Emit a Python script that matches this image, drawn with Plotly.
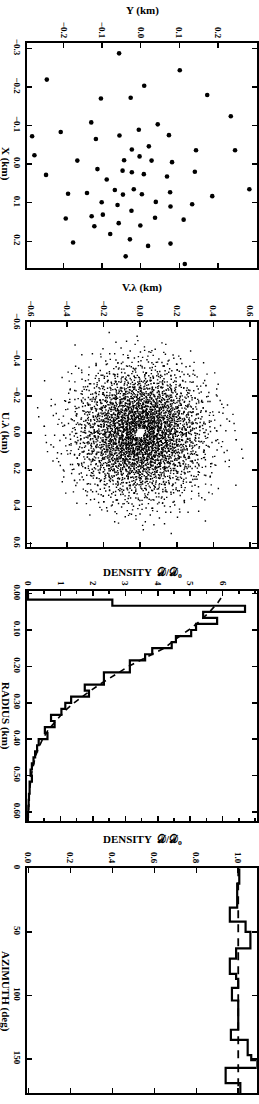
import plotly.graph_objects as go

# ---------------- data ----------------
# Panel 1: antenna positions (km)
ant_x = [-0.287, -0.243, -0.219, -0.203, -0.179, -0.170, -0.172, -0.124, -0.108, -0.103,
         -0.089, -0.083, -0.072, -0.074, -0.075, -0.065, -0.046, -0.036, -0.038, -0.036,
         -0.023, -0.020, -0.009, -0.010, -0.009, -0.005, 0.013, 0.017, 0.021, 0.026,
         0.020, 0.028, 0.032, 0.040, 0.067, 0.065, 0.073, 0.065, 0.077, 0.075,
         0.079, 0.078, 0.083, 0.099, 0.098, 0.106, 0.104, 0.110, 0.121, 0.131,
         0.135, 0.141, 0.139, 0.144, 0.153, 0.161, 0.159, 0.181, 0.195, 0.203,
         0.206, 0.212, 0.239, 0.259]
ant_y = [-0.056, 0.101, -0.243, 0.009, 0.172, -0.103, -0.026, 0.233, -0.128, 0.044,
         -0.005, -0.207, -0.281, -0.055, 0.073, -0.116, 0.021, 0.143, -0.023, 0.244,
         -0.275, -0.003, -0.164, -0.043, 0.028, 0.081, -0.112, -0.047, -0.023, 0.008,
         0.140, -0.245, 0.068, -0.088, -0.067, -0.018, 0.076, 0.281, -0.188, -0.139,
         -0.046, 0.003, 0.185, -0.101, 0.039, -0.060, 0.133, 0.077, -0.024, -0.098,
         -0.127, -0.194, 0.037, 0.111, -0.057, -0.120, -0.001, -0.079, -0.028, -0.175,
         0.077, 0.019, -0.039, 0.114]

# Panel 3: radial density histogram (bins of 1/60 km) and model curve
rad_bin_km = 1.0 / 60.0
rad_density = [0.0, 2.60, 6.69, 5.40, 5.83, 5.18, 5.03, 4.56, 4.43, 3.83,
               3.61, 3.14, 3.14, 2.34, 2.34, 1.75, 1.88, 1.33, 1.15, 1.03,
               0.71, 0.82, 0.52, 0.60, 0.33, 0.28, 0.22, 0.17, 0.12, 0.08,
               0.12, 0.05, 0.05, 0.03, 0.02, 0.01, 0.0]
model_r = [0.012, 0.025, 0.05, 0.075, 0.10, 0.125, 0.15, 0.175, 0.20, 0.225, 0.25,
           0.275, 0.30, 0.325, 0.35, 0.375, 0.40, 0.425, 0.45, 0.475, 0.50, 0.55, 0.60]
model_rad_density = [5.95, 5.85, 5.60, 5.30, 4.95, 4.55, 4.20, 3.65, 3.10, 2.65, 2.20,
                     1.80, 1.42, 1.10, 0.85, 0.62, 0.45, 0.32, 0.22, 0.15, 0.10, 0.04, 0.015]

# Panel 4: azimuthal density histogram
az_edges = [0, 12, 31, 42, 50, 63, 71, 83, 87, 94, 104, 127, 135, 147, 151, 157, 169, 177]
az_density = [1.005, 0.995, 0.96, 1.035, 1.058, 0.99, 0.96, 0.99, 1.0, 0.97, 1.0,
              0.965, 1.045, 1.062, 1.09, 0.94, 1.01]
model_az = [0, 177]
model_az_density = [1.0, 1.0]

# tick values per panel
p1_yticks = [-0.2, -0.1, 0.0, 0.1, 0.2]
p1_xticks = [-0.3, -0.2, -0.1, 0.0, 0.1, 0.2]
p2_ticks = [-0.6, -0.4, -0.2, 0.0, 0.2, 0.4, 0.6]
p3_dticks = [0, 1, 2, 3, 4, 5, 6]
p3_rticks = [0.0, 0.1, 0.2, 0.3, 0.4, 0.5, 0.6]
p4_dticks = [0.0, 0.2, 0.4, 0.6, 0.8, 1.0]
p4_aticks = [0, 50, 100, 150]

# Panel 2: snapshot (u, v) coverage = pairwise baseline vectors of the array
u_pts, v_pts = [], []
for i in range(len(ant_x)):
    for j in range(len(ant_x)):
        if i != j:
            u_pts.append(ant_x[i] - ant_x[j])
            v_pts.append(ant_y[i] - ant_y[j])

# ---------------- layout helpers ----------------
W, H = 259, 1104
FONT = "Liberation Serif"
BLACK = "black"

def fx(p):
    return p / W

def fy(p):
    return 1 - p / H

# frame pixel boxes: left, right, top, bottom
frames = [
    (26.7, 256.7, 43.3, 268.3),
    (26.7, 256.7, 321.7, 546.7),
    (26.7, 256.7, 590.7, 820.7),
    (26.7, 256.7, 868.3, 1093.3),
]

fig = go.Figure()

fig.add_trace(go.Scatter(x=ant_y, y=ant_x, mode="markers",
                         marker=dict(size=4.6, color=BLACK), xaxis="x", yaxis="y"))
fig.add_trace(go.Scatter(x=v_pts, y=u_pts, mode="markers",
                         marker=dict(size=1.4, color=BLACK, symbol="square", line=dict(width=0)),
                         xaxis="x2", yaxis="y2"))

rad_edges = [k * rad_bin_km for k in range(len(rad_density) + 1)]
fig.add_trace(go.Scatter(x=rad_density + [rad_density[-1]], y=rad_edges, mode="lines",
                         line=dict(color=BLACK, width=2.2, shape="vh"),
                         xaxis="x3", yaxis="y3"))
fig.add_trace(go.Scatter(x=model_rad_density, y=model_r, mode="lines",
                         line=dict(color=BLACK, width=1.6, dash="6px,5px"),
                         xaxis="x3", yaxis="y3"))

fig.add_trace(go.Scatter(x=model_az_density, y=model_az, mode="lines",
                         line=dict(color=BLACK, width=1.8, dash="8px,6px"),
                         xaxis="x4", yaxis="y4"))
fig.add_trace(go.Scatter(x=az_density + [az_density[-1]], y=az_edges, mode="lines",
                         line=dict(color=BLACK, width=2.2, shape="vh"),
                         xaxis="x4", yaxis="y4"))

tickfont = dict(family=FONT, size=9, color=BLACK, weight="bold")

def axis_common():
    return dict(showline=True, linewidth=2, linecolor=BLACK, mirror="allticks",
                ticks="inside", ticklen=5, tickwidth=1.5, tickcolor=BLACK,
                showgrid=False, zeroline=False, tickfont=tickfont, tickangle=90,
                fixedrange=True, automargin=False)

xspecs = [
    dict(range=[-0.295, 0.30], tickvals=p1_yticks, tickformat=".1f"),
    dict(range=[-0.622, 0.638], tickvals=p2_ticks, tickformat=".1f"),
    dict(range=[-0.04, 7.05], tickvals=p3_dticks, tickformat="d",
         minor=dict(dtick=0.5, ticks="inside", ticklen=3, tickcolor=BLACK)),
    dict(range=[-0.008, 1.088], tickvals=p4_dticks, tickformat=".1f"),
]
yspecs = [
    dict(range=[0.270, -0.313], tickvals=p1_xticks, tickformat=".1f"),
    dict(range=[0.618, -0.605], tickvals=p2_ticks, tickformat=".1f"),
    dict(range=[0.624, -0.008], tickvals=p3_rticks, tickformat=".2f"),
    dict(range=[177, 0], tickvals=p4_aticks, tickformat="d"),
]

layout_axes = {}
for k, (l, r, t, b) in enumerate(frames):
    n = "" if k == 0 else str(k + 1)
    xa = axis_common()
    xa.update(xspecs[k])
    xa.update(domain=[fx(l), fx(r)], side="top", anchor="y" + n)
    ya = axis_common()
    ya.update(yspecs[k])
    ya.update(domain=[fy(b), fy(t)], side="left", anchor="x" + n)
    layout_axes["xaxis" + n] = xa
    layout_axes["yaxis" + n] = ya

titlefont = dict(family=FONT, size=11, color=BLACK, weight="bold")
top_titles = [("Y (km)", 10), ("V.λ (km)", 287), ("DENSITY  𝒟/𝒟<sub>o</sub>", 573),
              ("DENSITY  𝒟/𝒟<sub>o</sub>", 840)]
left_titles = [("X (km)", 164), ("U.λ (km)", 433), ("RADIUS (km)", 716), ("AZIMUTH (deg)", 991)]

annotations = []
for txt, ypx in top_titles:
    annotations.append(dict(text=txt, x=fx(142), y=fy(ypx), xref="paper", yref="paper",
                            xanchor="center", yanchor="middle", showarrow=False, font=titlefont))
for txt, ypx in left_titles:
    annotations.append(dict(text=txt, x=fx(6), y=fy(ypx), xref="paper", yref="paper",
                            xanchor="center", yanchor="middle", showarrow=False,
                            textangle=90, font=titlefont))

fig.update_layout(width=W, height=H,
                  margin=dict(l=0, r=0, t=0, b=0, pad=0, autoexpand=False),
                  paper_bgcolor="white", plot_bgcolor="white", showlegend=False,
                  hovermode=False, annotations=annotations, **layout_axes)

fig.write_html("out.html",
               config={"displayModeBar": False, "staticPlot": True},
               post_script="document.body.style.margin='0px';"
                           "document.documentElement.style.overflow='hidden';")
